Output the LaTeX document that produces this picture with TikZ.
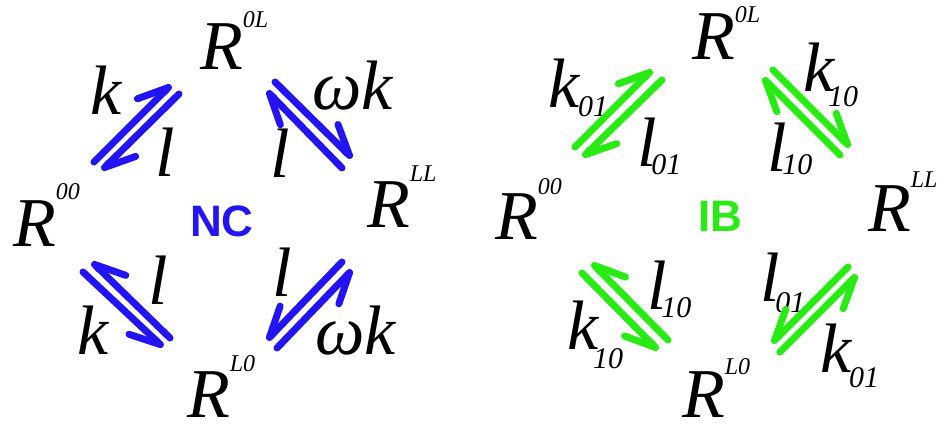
\documentclass[tikz,border=0pt]{standalone}
\usepackage{fontspec}
\setmainfont{Liberation Serif}[ItalicFont={Liberation Serif Italic}]
\newfontfamily\labsans{Liberation Sans}
\newfontfamily\termit{Liberation Serif Italic}
\usetikzlibrary{arrows.meta}
\definecolor{ncblue}{RGB}{35,20,245}
\definecolor{ibgreen}{RGB}{40,235,20}
\newcommand\bigfont{\termit\fontsize{70}{70}\selectfont}
\newcommand\supfont{\termit\fontsize{24}{24}\selectfont}
\newcommand\subfont{\termit\fontsize{30}{30}\selectfont}
% R with high superscript: #1 raise, #2 superscript
\newcommand\Rstate[2]{R\kern0pt\raisebox{#1pt}{\supfont #2}}
% letter with subscript: #1 letter, #2 kern, #3 drop, #4 subscript
\newcommand\rate[4]{#1\kern#2pt\raisebox{-#3pt}{\subfont #4}}
\begin{document}
\begin{tikzpicture}[x=1pt,y=-1pt,
  txt/.style={anchor=base west,inner sep=0pt,outer sep=0pt,font=\bigfont},
  tag/.style={anchor=base west,inner sep=0pt,outer sep=0pt,font=\labsans\bfseries\fontsize{44}{44}\selectfont},
  harp/.style={line width=7pt,line cap=round,line join=round,
    -{Straight Barb[harpoon,length=30pt,angle'=50,round]}},
  harpR/.style={line width=7pt,line cap=round,line join=round,
    -{Straight Barb[harpoon,swap,length=30pt,angle'=50,round]}}]
\useasboundingbox (0,0) rectangle (942,427);
% ---------------- left panel (NC) ----------------
\node[txt] (nR0L) at (200,70)  {\Rstate{42}{0L}};
\node[txt] (nR00) at (13,247)  {\Rstate{47}{00}};
\node[txt] (nRLL) at (367,228) {\Rstate{46}{LL}};
\node[txt] (nRL0) at (187,417) {\Rstate{46}{L0}};
\node[tag,text=ncblue] (nNC) at (190,237) {NC};
\node[txt] (nk1) at (90,115)  {k};
\node[txt] (nl1) at (155,177) {l};
\node[txt] (nw1) at (312,110) {ωk};
\node[txt] (nl2) at (270,178) {l};
\node[txt] (nl3) at (148,305) {l};
\node[txt] (nk2) at (77,355)  {k};
\node[txt] (nl4) at (272,297) {l};
\node[txt] (nw2) at (315,355) {ωk};
\begin{scope}[draw=ncblue]
\coordinate (a1s) at (94,162);  \coordinate (a1e) at (171,85);
\coordinate (a2s) at (179,94);  \coordinate (a2e) at (102,170);
\coordinate (a3s) at (275,82);  \coordinate (a3e) at (352,158);
\coordinate (a4s) at (342,168); \coordinate (a4e) at (267,91);
\coordinate (a5s) at (170,338); \coordinate (a5e) at (92,262);
\coordinate (a6s) at (83,272);  \coordinate (a6e) at (163,347);
\coordinate (a7s) at (342,262); \coordinate (a7e) at (267,340);
\coordinate (a8s) at (277,348); \coordinate (a8e) at (352,270);
\draw[harp] (a1s) -- (a1e);
\draw[harp] (a2s) -- (a2e);
\draw[harp] (a3s) -- (a3e);
\draw[harp] (a4s) -- (a4e);
\draw[harpR] (a5s) -- (a5e);
\draw[harpR] (a6s) -- (a6e);
\draw[harpR] (a7s) -- (a7e);
\draw[harpR] (a8s) -- (a8e);
\end{scope}
% ---------------- right panel (IB) ----------------
\node[txt] (mR0L) at (692,60)  {\Rstate{37}{0L}};
\node[txt] (mR00) at (495,240) {\Rstate{45}{00}};
\node[txt] (mRLL) at (868,232) {\Rstate{44}{LL}};
\node[txt] (mRL0) at (682,417) {\Rstate{43}{L0}};
\node[tag,text=ibgreen] (mIB) at (698,232) {IB};
\node[txt] (mk1) at (548,108) {\rate{k}{-1}{9}{01}};
\node[txt] (ml1) at (637,167) {\rate{l}{-5}{8}{01}};
\node[txt] (mk2) at (803,92)  {\rate{k}{-6}{15}{10}};
\node[txt] (ml2) at (767,172) {\rate{l}{-4}{3}{10}};
\node[txt] (ml3) at (647,310) {\rate{l}{-5}{8}{10}};
\node[txt] (mk3) at (567,350) {\rate{k}{-5}{18}{10}};
\node[txt] (ml4) at (760,302) {\rate{l}{-4}{11}{01}};
\node[txt] (mk4) at (820,372) {\rate{k}{-2}{15}{01}};
\begin{scope}[draw=ibgreen]
\coordinate (b1s) at (575,147); \coordinate (b1e) at (652,70);
\coordinate (b2s) at (662,80);  \coordinate (b2e) at (583,157);
\coordinate (b3s) at (773,70);  \coordinate (b3e) at (850,147);
\coordinate (b4s) at (840,155); \coordinate (b4e) at (763,78);
\coordinate (b5s) at (668,340); \coordinate (b5e) at (592,263);
\coordinate (b6s) at (582,273); \coordinate (b6e) at (658,350);
\coordinate (b7s) at (848,267); \coordinate (b7e) at (772,343);
\coordinate (b8s) at (780,352); \coordinate (b8e) at (857,275);
\draw[harp] (b1s) -- (b1e);
\draw[harp] (b2s) -- (b2e);
\draw[harp] (b3s) -- (b3e);
\draw[harp] (b4s) -- (b4e);
\draw[harpR] (b5s) -- (b5e);
\draw[harpR] (b6s) -- (b6e);
\draw[harpR] (b7s) -- (b7e);
\draw[harpR] (b8s) -- (b8e);
\end{scope}
\end{tikzpicture}
\end{document}
